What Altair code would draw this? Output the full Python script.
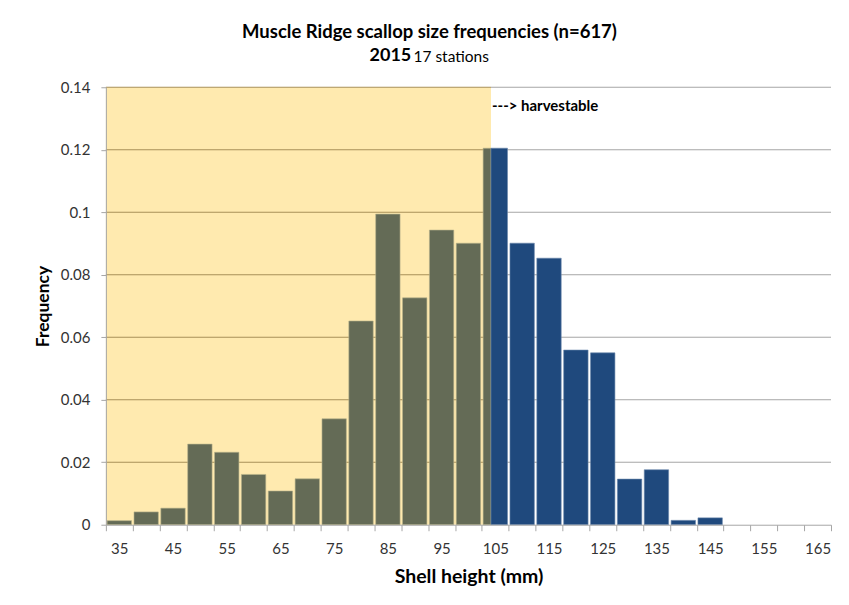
import altair as alt
import pandas as pd

# ---- data ----
sizes = list(range(35, 170, 5))
freq = [0.0013, 0.0041, 0.0053, 0.0258, 0.0232, 0.0161, 0.0108, 0.0147,
        0.0339, 0.0652, 0.0994, 0.0726, 0.0943, 0.0901, 0.1205, 0.0901,
        0.0853, 0.0559, 0.0550, 0.0146, 0.0176, 0.0014, 0.0022,
        0.0, 0.0, 0.0, 0.0]
cutoff = 104.2
y_ticks = [0, 0.02, 0.04, 0.06, 0.08, 0.1, 0.12, 0.14]
x_labels = list(range(35, 170, 10))
title_main = "Muscle Ridge scallop size frequencies (n=617)"
title_year = "2015"
title_stations = "17 stations"
note = "---> harvestable"

half = 2.27
bin_half = 2.5
x_min = sizes[0] - bin_half
x_max = sizes[-1] + bin_half
boundaries = [s - bin_half for s in sizes] + [x_max]

df = pd.DataFrame({"size": sizes, "freq": freq})
df["start"] = df["size"] - half
df["end"] = df["size"] + half
df["zero"] = 0.0
df = df[df["freq"] > 0]
gray = df[df["start"] < cutoff].copy()
gray["end"] = gray["end"].clip(upper=cutoff)
navy = df[df["end"] > cutoff].copy()
navy["start"] = navy["start"].clip(lower=cutoff)

grid_in_df = pd.DataFrame({"gy": [v for v in y_ticks if v > 0]})
grid_in_df["gx0"] = x_min
grid_in_df["gx1"] = cutoff
grid_out_df = pd.DataFrame({"hy": [v for v in y_ticks if v > 0]})
grid_out_df["hx0"] = cutoff
grid_out_df["hx1"] = x_max

FONT = "Lato"
xscale = alt.Scale(domain=[x_min, x_max], nice=False, zero=False)
yscale = alt.Scale(domain=[0, y_ticks[-1]], nice=False)

x_axis = alt.Axis(
    values=sorted(boundaries + x_labels),
    labelExpr="datum.value % 10 === 5 ? datum.value : ''",
    tickOpacity={"condition": {"test": "datum.value % 5 === 0", "value": 0}, "value": 1},
    labelOverlap=False, labelFlush=False,
    tickSize=6, tickColor="#A6A6A6", domainColor="#A6A6A6",
    labelPadding=11, labelFontSize=15, labelColor="#333333", labelFont=FONT,
    title="Shell height (mm)", titleFont=FONT, titleFontSize=19.5, titleFontWeight="bold",
    titleColor="#000000", titleBaseline="middle", titleY=52, grid=False, zindex=1,
)
y_axis = alt.Axis(
    values=y_ticks, format="~g", grid=False,
    tickSize=5, tickColor="#A6A6A6", domainColor="#A6A6A6",
    labelPadding=11, labelFontSize=15, labelColor="#333333", labelFont=FONT,
    title="Frequency", titleFont=FONT, titleFontSize=17.5, titleFontWeight="bold",
    titleColor="#000000", titleX=-57, titleBaseline="alphabetic", zindex=1,
)

shade_df = pd.DataFrame({"x0": [x_min], "x1": [cutoff], "y0": [0.0], "y1": [y_ticks[-1]]})
shade = alt.Chart(shade_df).mark_rect(color="#FFEAAF").encode(
    x=alt.X("x0:Q", scale=xscale, axis=x_axis),
    x2="x1:Q",
    y=alt.Y("y0:Q", scale=yscale, axis=y_axis),
    y2="y1:Q",
)

grid_in = alt.Chart(grid_in_df).mark_rule(color="#A89058", strokeWidth=1.2).encode(
    x=alt.X("gx0:Q", scale=xscale, axis=x_axis),
    x2="gx1:Q",
    y=alt.Y("gy:Q", scale=yscale, axis=y_axis),
)
grid_out = alt.Chart(grid_out_df).mark_rule(color="#A6A6A6", strokeWidth=1).encode(
    x=alt.X("hx0:Q", scale=xscale, axis=x_axis),
    x2="hx1:Q",
    y=alt.Y("hy:Q", scale=yscale, axis=y_axis),
)

gray_bars = alt.Chart(gray).mark_rect(color="#646B56", stroke="#B9B48C", strokeWidth=0.6).encode(
    x=alt.X("start:Q", scale=xscale, axis=x_axis),
    x2="end:Q",
    y=alt.Y("freq:Q", scale=yscale, axis=y_axis),
    y2="zero:Q",
)
navy_bars = alt.Chart(navy).mark_rect(color="#1F497D", stroke="#6A86AB", strokeWidth=0.6).encode(
    x=alt.X("start:Q", scale=xscale, axis=x_axis),
    x2="end:Q",
    y=alt.Y("freq:Q", scale=yscale, axis=y_axis),
    y2="zero:Q",
)

note_df = pd.DataFrame({"x": [cutoff], "y": [0.134], "t": [note]})
note_text = alt.Chart(note_df).mark_text(
    align="left", baseline="middle", dx=1, font=FONT, fontSize=15, fontWeight="bold", color="#000000"
).encode(
    x=alt.X("x:Q", scale=xscale, axis=x_axis),
    y=alt.Y("y:Q", scale=yscale, axis=y_axis),
    text="t:N",
)

t_df = pd.DataFrame({"ta": [title_main], "tb": [title_year], "tc": [title_stations]})
t_main = alt.Chart(t_df).mark_text(
    align="center", baseline="middle", font=FONT, fontSize=18.5, fontWeight="bold", color="#000000"
).encode(x=alt.value(324), y=alt.value(-55), text="ta:N")
t_year = alt.Chart(t_df).mark_text(
    align="left", baseline="middle", font=FONT, fontSize=18, fontWeight="bold", color="#000000"
).encode(x=alt.value(264), y=alt.value(-31), text="tb:N")
t_st = alt.Chart(t_df).mark_text(
    align="left", baseline="middle", font=FONT, fontSize=15.5, color="#000000"
).encode(x=alt.value(308), y=alt.value(-30), text="tc:N")

chart = alt.layer(shade, grid_in, grid_out, gray_bars, navy_bars, note_text,
                  t_main, t_year, t_st).properties(
    width=726, height=438,
    autosize=alt.AutoSizeParams(type="none"),
    padding={"left": 98, "top": 79, "right": 10, "bottom": 70},
    background="white",
).configure_view(stroke=None)

chart.save("out.html", embed_options={"renderer": "svg", "actions": False})
